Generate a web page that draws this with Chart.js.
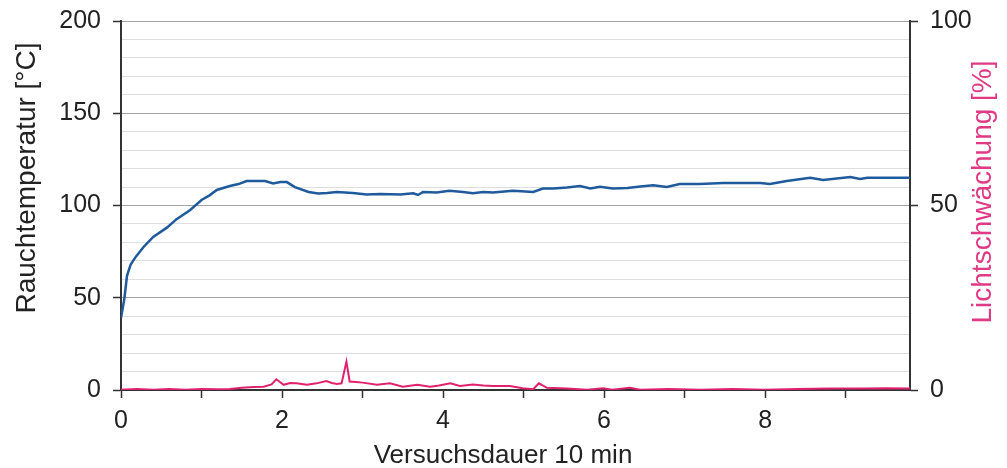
<!DOCTYPE html>
<html>
<head>
<meta charset="utf-8">
<script src="https://cdn.jsdelivr.net/npm/chart.js@4"></script>
<style>
  html, body { margin: 0; padding: 0; background: #ffffff; }
  #wrap { width: 1007px; height: 468px; position: relative; }
</style>
</head>
<body>
<div id="wrap"><canvas id="c"></canvas></div>
<script>
// ---- data ----
const tempTime = [0, 0.04, 0.075, 0.12, 0.18, 0.28, 0.4, 0.57, 0.69, 0.86,
  1.0, 1.1, 1.19, 1.35, 1.46, 1.56, 1.79, 1.89, 1.98, 2.06,
  2.16, 2.33, 2.45, 2.56, 2.68, 2.88, 3.05, 3.22, 3.47, 3.63,
  3.69, 3.75, 3.92, 4.08, 4.25, 4.37, 4.5, 4.62, 4.87, 5.12,
  5.24, 5.37, 5.54, 5.7, 5.83, 5.95, 6.11, 6.29, 6.45, 6.61,
  6.78, 6.94, 7.19, 7.48, 7.94, 8.06, 8.27, 8.56, 8.72, 9.06,
  9.18, 9.27, 9.5, 9.8];
const tempValues = [39, 49, 62, 68, 72, 77.5, 83, 88, 92.6, 97.6,
  103, 105.5, 108.4, 110.6, 111.6, 113.3, 113.3, 112, 112.7, 112.7,
  110, 107.3, 106.5, 106.8, 107.3, 106.8, 106, 106.2, 106, 106.6,
  105.7, 107.3, 107, 108, 107.3, 106.6, 107.3, 107, 108, 107.3,
  109.2, 109.2, 109.8, 110.6, 109.2, 110.2, 109.2, 109.5, 110.3, 111,
  110, 111.6, 111.6, 112.2, 112.2, 111.6, 113.3, 115, 113.8, 115.4,
  114.4, 115, 115, 115];

const lightTime = [0, 0.2, 0.4, 0.6, 0.8, 1.0, 1.2, 1.35, 1.5, 1.65,
  1.77, 1.87, 1.93, 2.02, 2.1, 2.18, 2.31, 2.43, 2.55, 2.62,
  2.68, 2.74, 2.80, 2.84, 2.92, 3.0, 3.18, 3.34, 3.5, 3.68,
  3.84, 3.95, 4.09, 4.21, 4.37, 4.5, 4.62, 4.83, 4.99, 5.12,
  5.19, 5.29, 5.54, 5.79, 5.99, 6.1, 6.32, 6.45, 6.8, 7.2,
  7.6, 8.0, 8.4, 8.8, 9.2, 9.5, 9.8];
const lightValues = [0.1, 0.3, 0.1, 0.3, 0.1, 0.3, 0.2, 0.3, 0.6, 0.8,
  0.9, 1.5, 2.9, 1.4, 1.9, 1.8, 1.4, 1.8, 2.4, 1.9,
  1.6, 1.8, 7.7, 2.3, 2.2, 2.0, 1.4, 1.8, 0.9, 1.4,
  0.9, 1.2, 1.8, 1.1, 1.5, 1.2, 1.1, 1.1, 0.5, 0.2,
  1.8, 0.6, 0.4, 0.1, 0.5, 0.1, 0.6, 0.1, 0.3, 0.1,
  0.3, 0.1, 0.3, 0.4, 0.4, 0.5, 0.4];

const xTitle = 'Versuchsdauer 10 min';
const yLeftTitle = 'Rauchtemperatur [°C]';
const yRightTitle = 'Lichtschwächung [%]';

const FONT = '"Liberation Sans", Arial, sans-serif';
Chart.defaults.font.family = FONT;

const titlePlugin = {
  id: 'axisTitles',
  afterDraw(chart) {
    const ctx = chart.ctx;
    ctx.save();
    ctx.textBaseline = 'alphabetic';
    ctx.textAlign = 'center';
    // x title
    ctx.fillStyle = '#222222';
    ctx.font = '26px ' + FONT;
    ctx.fillText(xTitle, 503, 463);
    // left title
    ctx.save();
    ctx.translate(35, 178);
    ctx.rotate(-Math.PI / 2);
    ctx.font = '28px ' + FONT;
    ctx.fillStyle = '#222222';
    ctx.fillText(yLeftTitle, 0, 0);
    ctx.restore();
    // right title
    ctx.save();
    ctx.translate(991, 192);
    ctx.rotate(-Math.PI / 2);
    ctx.font = '28px ' + FONT;
    ctx.fillStyle = '#e03a84';
    ctx.fillText(yRightTitle, 0, 0);
    ctx.restore();
    ctx.restore();
  }
};

function fixVertical(width) {
  return s => { s.width = width; s.paddingTop = 0; s.paddingBottom = 0; };
}

new Chart(document.getElementById('c'), {
  type: 'line',
  data: {
    datasets: [
      {
        label: yLeftTitle,
        data: tempTime.map((t, i) => ({ x: t, y: tempValues[i] })),
        borderColor: '#1f5a9c',
        borderWidth: 2.5,
        pointRadius: 0,
        tension: 0,
        yAxisID: 'y'
      },
      {
        label: yRightTitle,
        data: lightTime.map((t, i) => ({ x: t, y: lightValues[i] })),
        borderColor: '#e0226e',
        borderWidth: 2,
        pointRadius: 0,
        tension: 0,
        yAxisID: 'y1'
      }
    ]
  },
  options: {
    responsive: true,
    maintainAspectRatio: false,
    animation: false,
    layout: { padding: { top: 21, left: 0, right: 0, bottom: 0 } },
    plugins: { legend: { display: false }, tooltip: { enabled: false } },
    scales: {
      x: {
        type: 'linear',
        min: 0,
        max: 9.8,
        ticks: {
          stepSize: 1,
          includeBounds: false,
          autoSkip: false,
          maxRotation: 0,
          padding: 8,
          color: '#222222',
          font: { size: 25 },
          callback: v => (Number.isInteger(v) && v % 2 === 0) ? String(v) : ''
        },
        grid: {
          drawOnChartArea: false,
          drawTicks: true,
          tickLength: 8,
          tickWidth: 1.5,
          tickColor: '#333333'
        },
        border: { color: '#333333', width: 2 },
        afterFit: s => { s.height = 78; s.paddingLeft = 0; s.paddingRight = 0; }
      },
      y: {
        position: 'left',
        min: 0,
        max: 200,
        ticks: {
          stepSize: 10,
          autoSkip: false,
          padding: 12,
          color: '#222222',
          font: { size: 25 },
          callback: v => (v % 50 === 0) ? String(v) : ''
        },
        grid: {
          color: c => (c.tick && c.tick.value % 50 === 0) ? '#a4a4a4' : '#dedede',
          lineWidth: 1,
          tickLength: 8,
          tickWidth: 1.5,
          tickColor: c => (c.tick && c.tick.value % 50 === 0) ? '#333333' : 'rgba(0,0,0,0)'
        },
        border: { color: '#333333', width: 2 },
        afterFit: fixVertical(121)
      },
      y1: {
        position: 'right',
        min: 0,
        max: 100,
        ticks: {
          stepSize: 50,
          padding: 12,
          color: '#222222',
          font: { size: 25 }
        },
        grid: {
          drawOnChartArea: false,
          tickLength: 8,
          tickWidth: 1.5,
          tickColor: '#333333'
        },
        border: { color: '#333333', width: 2 },
        afterFit: fixVertical(97)
      }
    }
  },
  plugins: [titlePlugin]
});
</script>
</body>
</html>
